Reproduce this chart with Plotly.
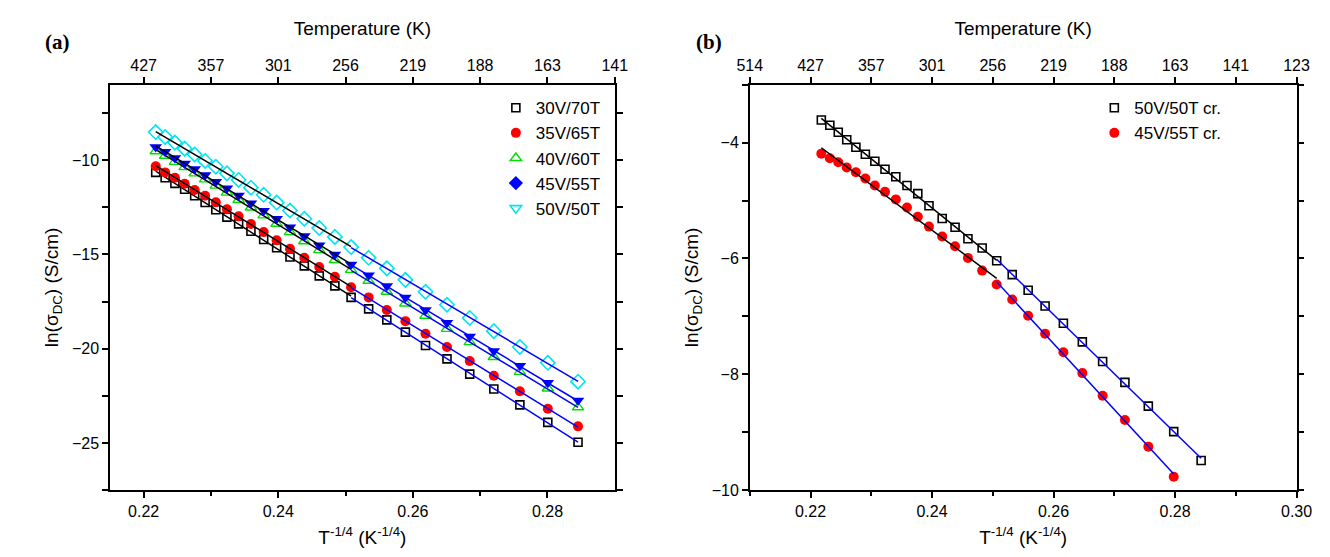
import numpy as np
import plotly.graph_objects as go

x_a = [0.22179,0.22319,0.22464,0.22609,0.22758,0.22913,0.23072,0.23237,0.23411,0.23594,0.23783,0.23976,0.24174,0.24387,0.24609,0.24841,0.25082,0.25343,0.25613,0.25889,0.26188,0.26507,0.26845,0.27203,0.27590,0.28005,0.28454]
y_30 = [-10.65,-10.93,-11.23,-11.54,-11.89,-12.25,-12.63,-13.02,-13.38,-13.77,-14.21,-14.65,-15.14,-15.61,-16.14,-16.67,-17.28,-17.89,-18.47,-19.12,-19.83,-20.54,-21.35,-22.14,-22.98,-23.91,-24.96]
y_35 = [-10.32,-10.65,-10.93,-11.25,-11.58,-11.89,-12.23,-12.60,-12.98,-13.39,-13.81,-14.25,-14.70,-15.18,-15.67,-16.18,-16.74,-17.28,-17.95,-18.54,-19.21,-19.91,-20.65,-21.44,-22.26,-23.19,-24.12]
y_40 = [-9.53,-9.77,-10.09,-10.37,-10.70,-11.02,-11.35,-11.72,-12.11,-12.51,-12.93,-13.37,-13.82,-14.30,-14.77,-15.30,-15.82,-16.40,-16.98,-17.60,-18.25,-18.95,-19.65,-20.44,-21.23,-22.11,-23.11]
y_45 = [-9.30,-9.56,-9.88,-10.18,-10.47,-10.79,-11.14,-11.49,-11.88,-12.28,-12.68,-13.11,-13.56,-14.02,-14.51,-15.00,-15.53,-16.11,-16.67,-17.28,-17.95,-18.63,-19.35,-20.12,-20.91,-21.81,-22.75]
y_50 = [-8.51,-8.77,-9.07,-9.39,-9.70,-10.04,-10.35,-10.70,-11.05,-11.46,-11.84,-12.25,-12.67,-13.11,-13.60,-14.07,-14.61,-15.18,-15.74,-16.35,-16.98,-17.67,-18.37,-19.07,-19.91,-20.75,-21.75]

x_b = [0.22178,0.22318,0.22457,0.22596,0.22747,0.22903,0.23059,0.23226,0.23404,0.23588,0.23766,0.23950,0.24167,0.24379,0.24591,0.24825,0.25064,0.25320,0.25582,0.25861,0.26162,0.26474,0.26808,0.27175,0.27560,0.27978,0.28429]
y_50cr = [-3.61,-3.70,-3.82,-3.95,-4.08,-4.20,-4.32,-4.46,-4.59,-4.74,-4.88,-5.09,-5.31,-5.46,-5.66,-5.82,-6.04,-6.28,-6.55,-6.82,-7.12,-7.44,-7.78,-8.14,-8.55,-8.99,-9.49]
y_45cr = [-4.19,-4.27,-4.34,-4.43,-4.51,-4.62,-4.74,-4.85,-4.98,-5.12,-5.28,-5.45,-5.62,-5.79,-5.99,-6.21,-6.45,-6.71,-6.99,-7.30,-7.62,-7.98,-8.37,-8.79,-9.25,-9.77]

top_a_vals = [0.22,0.23,0.24,0.25,0.26,0.27,0.28,0.29]
top_a_text = ["427","357","301","256","219","188","163","141"]
top_b_vals = [0.21,0.22,0.23,0.24,0.25,0.26,0.27,0.28,0.29,0.30]
top_b_text = ["514","427","357","301","256","219","188","163","141","123"]

FONT = "Liberation Sans"
fig = go.Figure()

def fit_seg(x, y, i0, i1):
    xs = np.array(x[i0:i1+1]); ys = np.array(y[i0:i1+1])
    p = np.polyfit(xs, ys, 1)
    xx = np.array([xs[0], xs[-1]])
    return xx, np.polyval(p, xx)

series_a = [
    ("30V/70T", y_30, dict(symbol="square-open", color="black", size=8, line=dict(width=1.6)), dict(symbol="square-open", color="black", size=8, line=dict(width=1.6))),
    ("35V/65T", y_35, dict(symbol="circle", color="red", size=10), dict(symbol="circle", color="red", size=10)),
    ("40V/60T", y_40, dict(symbol="triangle-up-open", color="#00e000", size=10, line=dict(width=1.4)), dict(symbol="triangle-up-open", color="#00e000", size=10, line=dict(width=1.4))),
    ("45V/55T", y_45, dict(symbol="triangle-down", color="blue", size=11), dict(symbol="diamond", color="blue", size=11)),
    ("50V/50T", y_50, dict(symbol="diamond-open", color="#00e5f0", size=11, line=dict(width=1.6)), dict(symbol="triangle-down-open", color="#00e5f0", size=10, line=dict(width=1.6))),
]
for name, ys, mk, lmk in series_a:
    fig.add_trace(go.Scatter(x=x_a, y=ys, mode="markers", marker=mk, showlegend=False, xaxis="x", yaxis="y"))
    xx, yy = fit_seg(x_a, ys, 0, 16)
    fig.add_trace(go.Scatter(x=xx, y=yy, mode="lines", line=dict(color="black", width=1.5), showlegend=False, xaxis="x", yaxis="y"))
    xx, yy = fit_seg(x_a, ys, 16, len(ys)-1)
    fig.add_trace(go.Scatter(x=xx, y=yy, mode="lines", line=dict(color="blue", width=1.5), showlegend=False, xaxis="x", yaxis="y"))
for name, ys, mk, lmk in series_a:
    fig.add_trace(go.Scatter(x=[None], y=[None], mode="markers", marker=lmk, name=name, legend="legend", xaxis="x", yaxis="y"))

series_b = [
    ("50V/50T cr.", x_b, y_50cr, dict(symbol="square-open", color="black", size=8, line=dict(width=1.6))),
    ("45V/55T cr.", x_b[:len(y_45cr)], y_45cr, dict(symbol="circle", color="red", size=10)),
]
for name, xs, ys, mk in series_b:
    fig.add_trace(go.Scatter(x=xs, y=ys, mode="markers", marker=mk, name=name, legend="legend2", xaxis="x2", yaxis="y2"))
    xx, yy = fit_seg(xs, ys, 0, 16)
    fig.add_trace(go.Scatter(x=xx, y=yy, mode="lines", line=dict(color="black", width=1.5), showlegend=False, xaxis="x2", yaxis="y2"))
    xx, yy = fit_seg(xs, ys, 16, len(ys)-1)
    fig.add_trace(go.Scatter(x=xx, y=yy, mode="lines", line=dict(color="blue", width=1.5), showlegend=False, xaxis="x2", yaxis="y2"))

W, H = 1330, 557
dom_y = [1-490/H, 1-78/H]
da = [91/W, 607/W]
db = [745/W, 1304/W]
ax = dict(showline=True, linecolor="black", linewidth=1.5, ticks="outside", ticklen=6, tickwidth=1.5,
          tickcolor="black", showgrid=False, zeroline=False, tickfont=dict(size=16, family=FONT, color="black"))
xtitle = dict(text="T<sup>-1/4</sup> (K<sup>-1/4</sup>)", font=dict(size=19, family=FONT, color="black"), standoff=12)
ytitle = dict(text="ln(σ<sub>DC</sub>) (S/cm)", font=dict(size=19, family=FONT, color="black"), standoff=8)
ttitle = dict(text="Temperature (K)", font=dict(size=19, family=FONT, color="black"), standoff=16)
minor = dict(ticks="outside", ticklen=4, tickwidth=1.5, tickcolor="black", showgrid=False)

fig.update_layout(
    width=W, height=H, margin=dict(l=0, r=0, t=0, b=0),
    plot_bgcolor="white", paper_bgcolor="white",
    xaxis=dict(**ax, domain=da, range=[0.215, 0.29], tickvals=[0.22,0.24,0.26,0.28], ticktext=["0.22","0.24","0.26","0.28"],
               minor=dict(**minor, tickvals=[0.23,0.25,0.27]), mirror=True, anchor="y", title=xtitle),
    yaxis=dict(**ax, domain=dom_y, range=[-27.5, -6], dtick=5, tick0=0, minor=dict(**minor, dtick=2.5, tick0=0),
               mirror="allticks", anchor="x", title=ytitle),
    xaxis3=dict(**ax, overlaying="x", side="top", anchor="y", range=[0.215, 0.29], tickvals=top_a_vals, ticktext=top_a_text, title=ttitle),
    xaxis2=dict(**ax, domain=db, range=[0.21, 0.30], tickvals=[0.22,0.24,0.26,0.28,0.30], ticktext=["0.22","0.24","0.26","0.28","0.30"],
                minor=dict(**minor, tickvals=[0.21,0.23,0.25,0.27,0.29]), mirror=True, anchor="y2", title=xtitle),
    yaxis2=dict(**ax, domain=dom_y, range=[-10, -3], tickvals=[-10,-8,-6,-4], minor=dict(**minor, dtick=1, tick0=0),
                mirror="allticks", anchor="x2", title=ytitle),
    xaxis4=dict(**ax, overlaying="x2", side="top", anchor="y2", range=[0.21, 0.30], tickvals=top_b_vals, ticktext=top_b_text, title=ttitle),
    legend=dict(x=0.365, y=0.85, xanchor="left", yanchor="top", bgcolor="rgba(0,0,0,0)",
                font=dict(size=17, family=FONT, color="black"), tracegroupgap=0),
    legend2=dict(x=0.825, y=0.85, xanchor="left", yanchor="top", bgcolor="rgba(0,0,0,0)",
                 font=dict(size=17, family=FONT, color="black")),
    annotations=[
        dict(text="<b>(a)</b>", x=22/W, y=1-20/H, xref="paper", yref="paper", showarrow=False, xanchor="left",
             font=dict(size=21, family="Liberation Serif", color="black")),
        dict(text="<b>(b)</b>", x=688/W, y=1-20/H, xref="paper", yref="paper", showarrow=False, xanchor="left",
             font=dict(size=21, family="Liberation Serif", color="black")),
    ],
)
fig.add_trace(go.Scatter(x=[None], y=[None], xaxis="x3", yaxis="y", showlegend=False))
fig.add_trace(go.Scatter(x=[None], y=[None], xaxis="x4", yaxis="y2", showlegend=False))
fig.write_html("out.html")
